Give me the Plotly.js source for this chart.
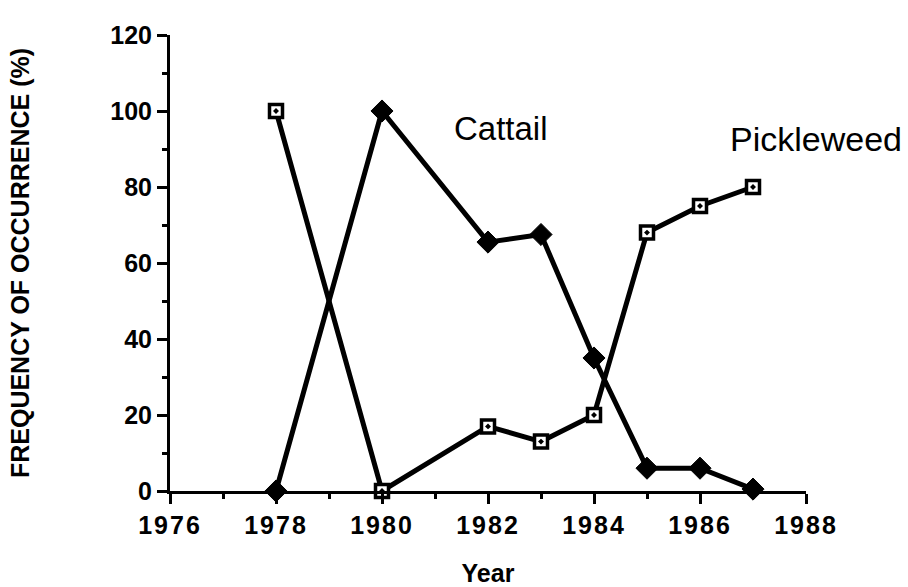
<!DOCTYPE html>
<html>
<head>
<meta charset="utf-8">
<script src="https://cdn.plot.ly/plotly-3.0.1.min.js"></script>
<style>
html,body{margin:0;padding:0;background:#fff;}
#chart{width:908px;height:587px;}
#chart .xtick text{letter-spacing:2px;}
</style>
</head>
<body>
<div id="chart"></div>
<script>
var years = [1978, 1980, 1982, 1983, 1984, 1985, 1986, 1987];
var cattail = [0, 100, 65.5, 67.5, 35, 6, 6, 0.5];
var pickleweed = [100, 0, 17, 13, 20, 68, 75, 80];
var xTicks = [1976, 1978, 1980, 1982, 1984, 1986, 1988];
var yTicks = [0, 20, 40, 60, 80, 100, 120];

var fontFam = 'Liberation Sans, Arial, Helvetica, sans-serif';

var traces = [
  {
    x: years, y: cattail, type: 'scatter', mode: 'lines+markers', name: 'Cattail',
    line: {color: '#000', width: 5},
    marker: {symbol: 'diamond', size: 17, color: '#000', line: {color: '#000', width: 1}},
    cliponaxis: false
  },
  {
    x: years, y: pickleweed, type: 'scatter', mode: 'lines+markers', name: 'Pickleweed',
    line: {color: '#000', width: 5},
    marker: {symbol: 'square-dot', size: 13, color: '#fff', line: {color: '#000', width: 3.5}},
    cliponaxis: false
  }
];

var layout = {
  width: 908, height: 587,
  margin: {l: 170, r: 102, t: 35, b: 96},
  paper_bgcolor: '#fff', plot_bgcolor: '#fff',
  showlegend: false,
  font: {family: fontFam, color: '#000'},
  xaxis: {
    range: [1976, 1988], tickmode: 'array', tickvals: xTicks,
    ticktext: xTicks.map(String),
    showgrid: false, zeroline: false,
    showline: true, linecolor: '#000', linewidth: 3,
    ticks: 'outside', ticklen: 10, tickwidth: 3, tickcolor: '#000',
    minor: {dtick: 1, tick0: 1976, ticks: 'outside', ticklen: 5, tickwidth: 3, tickcolor: '#000', showgrid: false},
    tickfont: {family: fontFam, size: 25, color: '#000', weight: 'bold'},
    title: {text: '<b>Year</b>', font: {family: fontFam, size: 25, color: '#000'}, standoff: 30}
  },
  yaxis: {
    range: [0, 120], tickmode: 'array', tickvals: yTicks,
    showgrid: false, zeroline: false,
    showline: true, linecolor: '#000', linewidth: 3,
    ticks: 'outside', ticklen: 10, tickwidth: 3, tickcolor: '#000',
    minor: {dtick: 10, tick0: 0, ticks: 'outside', ticklen: 5, tickwidth: 3, tickcolor: '#000', showgrid: false},
    tickfont: {family: fontFam, size: 25, color: '#000', weight: 'bold'},
    title: {text: '<b>FREQUENCY OF OCCURRENCE (%)</b>', font: {family: fontFam, size: 25, color: '#000'}, standoff: 74}
  },
  annotations: [
    {x: 1982.25, y: 95.5, xref: 'x', yref: 'y', text: 'Cattail', showarrow: false,
     xanchor: 'center', yanchor: 'middle', font: {family: fontFam, size: 33, color: '#000'}},
    {x: 1.0157, y: 0.772, xref: 'paper', yref: 'paper', text: 'Pickleweed', showarrow: false,
     xanchor: 'center', yanchor: 'middle', font: {family: fontFam, size: 34, color: '#000'}}
  ]
};

Plotly.newPlot('chart', traces, layout, {displayModeBar: false, staticPlot: true});
</script>
</body>
</html>
